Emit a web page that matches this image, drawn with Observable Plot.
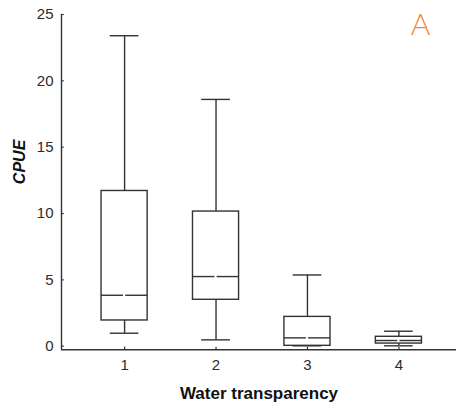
<!DOCTYPE html>
<html>
<head>
<meta charset="utf-8">
<script src="https://cdn.jsdelivr.net/npm/d3@7"></script>
<script src="https://cdn.jsdelivr.net/npm/@observablehq/plot@0.6"></script>
<style>
  html, body { margin: 0; padding: 0; background: #fff; }
  #chart svg { display: block; }
</style>
</head>
<body>
<div id="chart"></div>
<script>
// Data
const categories  = [1, 2, 3, 4];
const whiskerLow  = [0.98, 0.48, 0.03, 0.03];
const q1          = [1.94, 3.50, 0.03, 0.20];
const median      = [3.84, 5.25, 0.63, 0.43];
const q3          = [11.70, 10.15, 2.21, 0.71];
const whiskerHigh = [23.40, 18.60, 5.37, 1.13];
const yTicks = [0, 5, 10, 15, 20, 25];
const xTickLabels = ["1", "2", "3", "4"];
const xTitle = "Water transparency";
const yTitle = "CPUE";
const panelLabel = "A";

const rows = categories.map((c, i) => ({
  x: c, lo: whiskerLow[i], q1: q1[i], med: median[i], q3: q3[i], hi: whiskerHigh[i]
}));

const xDom = [0.31, 4.63];
const yDom = [-0.27, 25];
const halfBox = 0.252;
const halfCap = 0.157;
const gap = 0.012;
const ink = "#333";
const font = "Arial, 'Liberation Sans', sans-serif";

const chart = Plot.plot({
  width: 456,
  height: 408,
  marginLeft: 61,
  marginRight: 0,
  marginTop: 14,
  marginBottom: 58.7,
  style: { fontFamily: font, background: "#fff", color: ink },
  x: { type: "linear", domain: xDom },
  y: { type: "linear", domain: yDom },
  marks: [
    // axis lines
    Plot.ruleX([xDom[0]], { y1: yDom[0], y2: yDom[1], stroke: ink, strokeWidth: 1.4 }),
    Plot.ruleY([yDom[0]], { x1: xDom[0], x2: xDom[1], stroke: ink, strokeWidth: 1.4 }),
    // inward y ticks
    Plot.ruleY(yTicks, { x1: xDom[0], x2: xDom[0] + 0.03, stroke: ink, strokeWidth: 1.2 }),
    // x ticks
    Plot.ruleX(categories, { y1: yDom[0], y2: yDom[0] + 0.2, stroke: ink, strokeWidth: 1.2 }),
    // whiskers
    Plot.ruleX(rows, { x: "x", y1: "q3", y2: "hi", stroke: ink, strokeWidth: 1.4 }),
    Plot.ruleX(rows, { x: "x", y1: "lo", y2: "q1", stroke: ink, strokeWidth: 1.4 }),
    Plot.ruleY(rows, { y: "hi", x1: d => d.x - halfCap, x2: d => d.x + halfCap, stroke: ink, strokeWidth: 1.4 }),
    Plot.ruleY(rows, { y: "lo", x1: d => d.x - halfCap, x2: d => d.x + halfCap, stroke: ink, strokeWidth: 1.4 }),
    // boxes
    Plot.rect(rows, { x1: d => d.x - halfBox, x2: d => d.x + halfBox, y1: "q1", y2: "q3", fill: "white", stroke: ink, strokeWidth: 1.4 }),
    // medians (with small central gap)
    Plot.ruleY(rows, { y: "med", x1: d => d.x - halfBox, x2: d => d.x - gap, stroke: ink, strokeWidth: 1.4 }),
    Plot.ruleY(rows, { y: "med", x1: d => d.x + gap, x2: d => d.x + halfBox, stroke: ink, strokeWidth: 1.4 }),
    // tick labels
    Plot.axisY({ ticks: yTicks, tickSize: 0, tickPadding: 8, fontSize: 15, label: null, color: "#2b2b2b" }),
    Plot.axisX({ ticks: categories, tickFormat: (d, i) => xTickLabels[categories.indexOf(d)], tickSize: 0, tickPadding: 10, fontSize: 15, label: null, color: "#2b2b2b" }),
    // titles
    Plot.text([yTitle], { frameAnchor: "left", dx: -42, dy: 2, rotate: -90, fontSize: 16, fontWeight: "bold", fontStyle: "italic", fill: "#111" }),
    Plot.text([xTitle], { frameAnchor: "bottom", dy: 44, lineAnchor: "middle", fontSize: 17, fontWeight: "bold", fill: "#111" }),
    Plot.text([panelLabel], { frameAnchor: "top-right", dx: -36, dy: 10.5, textAnchor: "middle", lineAnchor: "middle", fontSize: 30, fontWeight: 300, fontFamily: "Lato, 'Open Sans', sans-serif", fill: "#f28a3c" })
  ]
});
document.getElementById("chart").appendChild(chart);
</script>
</body>
</html>
